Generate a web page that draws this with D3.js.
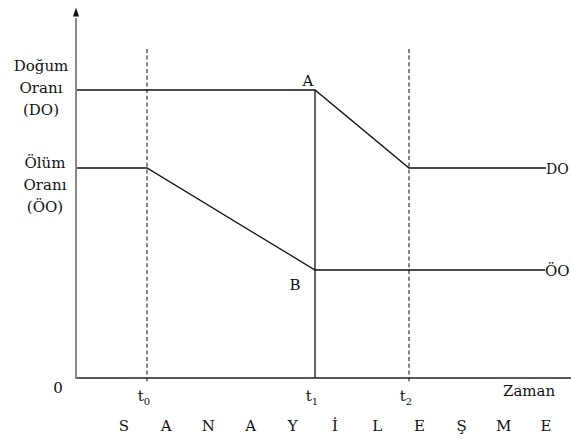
<!DOCTYPE html>
<html><head><meta charset="utf-8">
<script src="https://cdn.jsdelivr.net/npm/d3@7"></script>
<style>html,body{margin:0;padding:0;background:#fff}svg{display:block}text{font-family:"DejaVu Serif",serif;fill:#111}</style>
</head><body><svg id="c" width="571" height="439"></svg>
<script>
// Time points (x units) and levels (y units)
const timeNames = ["t0","t1","t2"];
const timeValues = [71, 239, 333];
const xEnd = 495;
const birthRate = [{t:0,v:96},{t:239,v:96},{t:333,v:70},{t:470,v:70}];   // DO
const deathRate = [{t:0,v:70},{t:71,v:70},{t:239,v:36},{t:469,v:36}];    // ÖO
const seriesLabels = ["DO","ÖO"];
const pointLabels = [{name:"A",t:232,v:99},{name:"B",t:219,v:31}];
const phaseLetters = ["S","A","N","A","Y","İ","L","E","Ş","M","E"];
const yLabelsBirth = ["Doğum","Oranı","(DO)"];
const yLabelsDeath = ["Ölüm","Oranı","(ÖO)"];

const svg = d3.select("#c");
const x = d3.scaleLinear().domain([0, xEnd]).range([76, 571]);
const y = d3.scaleLinear().domain([0, 100]).range([378, 78]);

// dashed vertical lines at t0, t2
[0,2].forEach(i=>{
  svg.append("line").attr("x1",x(timeValues[i])).attr("x2",x(timeValues[i]))
    .attr("y1",y(109.7)).attr("y2",y(-1.8))
    .attr("stroke","#333").attr("stroke-width",1.2).attr("stroke-dasharray","4,2.7");
});
// solid vertical at t1
svg.append("line").attr("x1",x(timeValues[1])).attr("x2",x(timeValues[1]))
  .attr("y1",y(96)).attr("y2",y(0)).attr("stroke","#111").attr("stroke-width",1.3);

const line = d3.line().x(d=>x(d.t)).y(d=>y(d.v));
[birthRate, deathRate].forEach(s=>{
  svg.append("path").attr("d",line(s)).attr("fill","none").attr("stroke","#111").attr("stroke-width",1.3);
});

// axes
svg.append("line").attr("x1",x(0)).attr("x2",x(xEnd)).attr("y1",y(0)).attr("y2",y(0))
  .attr("stroke","#222").attr("stroke-width",1.6);
svg.append("line").attr("x1",x(0)).attr("x2",x(0)).attr("y1",y(0)+1).attr("y2",y(120))
  .attr("stroke","#888").attr("stroke-width",2);
svg.append("path").attr("d",`M${x(0)},${y(123.5)} L${x(0)-3},${y(120.5)} L${x(0)+3},${y(120.5)} Z`).attr("fill","#111");

// y labels
yLabelsBirth.forEach((t,i)=>svg.append("text").attr("x",41).attr("y",71+i*22).attr("text-anchor","middle").attr("font-size",15).text(t));
yLabelsDeath.forEach((t,i)=>svg.append("text").attr("x",45).attr("y",168+i*22).attr("text-anchor","middle").attr("font-size",15).text(t));

// zero
svg.append("text").attr("x",58).attr("y",393).attr("text-anchor","middle").attr("font-size",15).text("0");

// time labels
timeNames.forEach((n,i)=>{
  const tx = svg.append("text").attr("x",x(timeValues[i])-3).attr("y",401).attr("text-anchor","middle").attr("font-size",15);
  tx.append("tspan").text(n[0]);
  tx.append("tspan").attr("font-size",10).attr("dy",4).text(n.slice(1));
});
svg.append("text").attr("x",503).attr("y",396).attr("font-size",15).text("Zaman");

// point labels
pointLabels.forEach(p=>svg.append("text").attr("x",x(p.t)).attr("y",y(p.v)+5).attr("text-anchor","middle").attr("font-size",15).text(p.name));

// series labels
svg.append("text").attr("x",x(470)).attr("y",y(70)+6).attr("font-size",14).text(seriesLabels[0]);
svg.append("text").attr("x",x(469)).attr("y",y(36)+6).attr("font-size",15).text(seriesLabels[1]);

// phase letters
const px = d3.scalePoint().domain(d3.range(phaseLetters.length)).range([124,546]);
phaseLetters.forEach((l,i)=>svg.append("text").attr("x",px(i)).attr("y",431).attr("text-anchor","middle").attr("font-size",15).text(l));
</script></body></html>
